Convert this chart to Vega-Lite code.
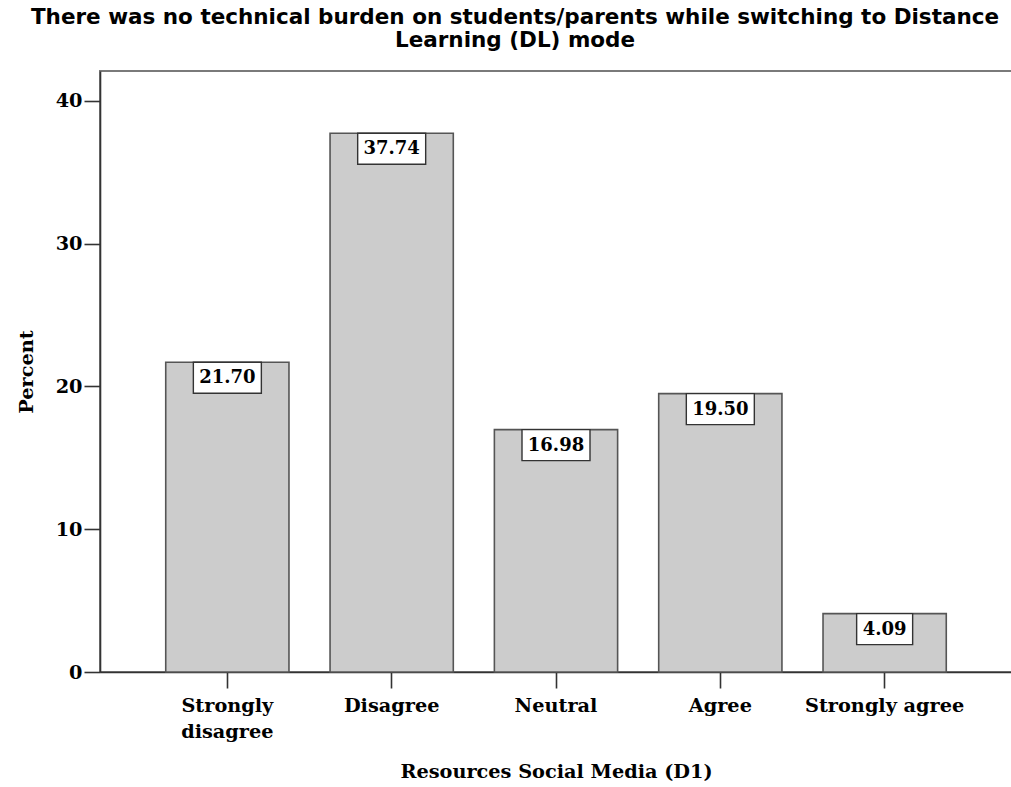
{
  "$schema": "https://vega.github.io/schema/vega-lite/v6.json",
  "autosize": {"type": "none"},
  "padding": {"left": 100, "top": 71, "right": 0, "bottom": 115},
  "width": 912,
  "height": 601,
  "background": "white",
  "title": {
    "text": ["There was no technical burden on students/parents while switching to Distance", "Learning (DL) mode"],
    "font": "DejaVu Sans",
    "fontSize": 21.5,
    "fontWeight": "bold",
    "color": "#000000",
    "lineHeight": 23,
    "anchor": "middle",
    "dx": -41,
    "offset": 20
  },
  "config": {
    "view": {"stroke": "#7a7a7a", "strokeWidth": 2},
    "axis": {
      "labelFont": "DejaVu Serif",
      "labelFontWeight": "bold",
      "labelFontSize": 19.3,
      "labelColor": "#000000",
      "titleFont": "DejaVu Serif",
      "titleFontWeight": "bold",
      "titleFontSize": 19.3,
      "titleColor": "#000000",
      "domainColor": "#333333",
      "domainWidth": 1.6,
      "tickColor": "#333333",
      "tickWidth": 1.6,
      "tickSize": 16,
      "grid": false
    }
  },
  "data": {
    "values": [
      {"category": "Strongly disagree", "pct": 21.70},
      {"category": "Disagree", "pct": 37.74},
      {"category": "Neutral", "pct": 16.98},
      {"category": "Agree", "pct": 19.50},
      {"category": "Strongly agree", "pct": 4.09}
    ]
  },
  "encoding": {
    "x": {
      "field": "category",
      "type": "nominal",
      "sort": null,
      "scale": {"paddingInner": 0.25, "paddingOuter": 0.4},
      "axis": {
        "title": "Resources Social Media (D1)",
        "labelAngle": 0,
        "labelPadding": 8,
        "labelLineHeight": 26,
        "titleY": 90,
        "labelExpr": "datum.value == 'Strongly disagree' ? ['Strongly', 'disagree'] : datum.value"
      }
    },
    "y": {
      "field": "pct",
      "type": "quantitative",
      "scale": {"domain": [0, 42.1], "nice": false, "zero": true},
      "axis": {
        "title": "Percent",
        "values": [0, 10, 20, 30, 40],
        "labelPadding": 2,
        "titleX": -64
      }
    }
  },
  "layer": [
    {
      "mark": {"type": "bar", "fill": "#cccccc", "stroke": "#555555", "strokeWidth": 1.6}
    },
    {
      "mark": {"type": "bar", "fill": "#ffffff", "stroke": "#333333", "strokeWidth": 1.4, "y2Offset": 31},
      "encoding": {
        "y2": {"field": "pct"},
        "size": {"condition": {"test": "datum.pct < 10", "value": 56}, "value": 68}
      }
    },
    {
      "mark": {"type": "text", "font": "DejaVu Serif", "fontWeight": "bold", "fontSize": 18, "color": "#000000", "baseline": "middle", "align": "center", "dy": 16},
      "encoding": {
        "text": {"field": "pct", "type": "quantitative", "format": ".2f"}
      }
    }
  ]
}
